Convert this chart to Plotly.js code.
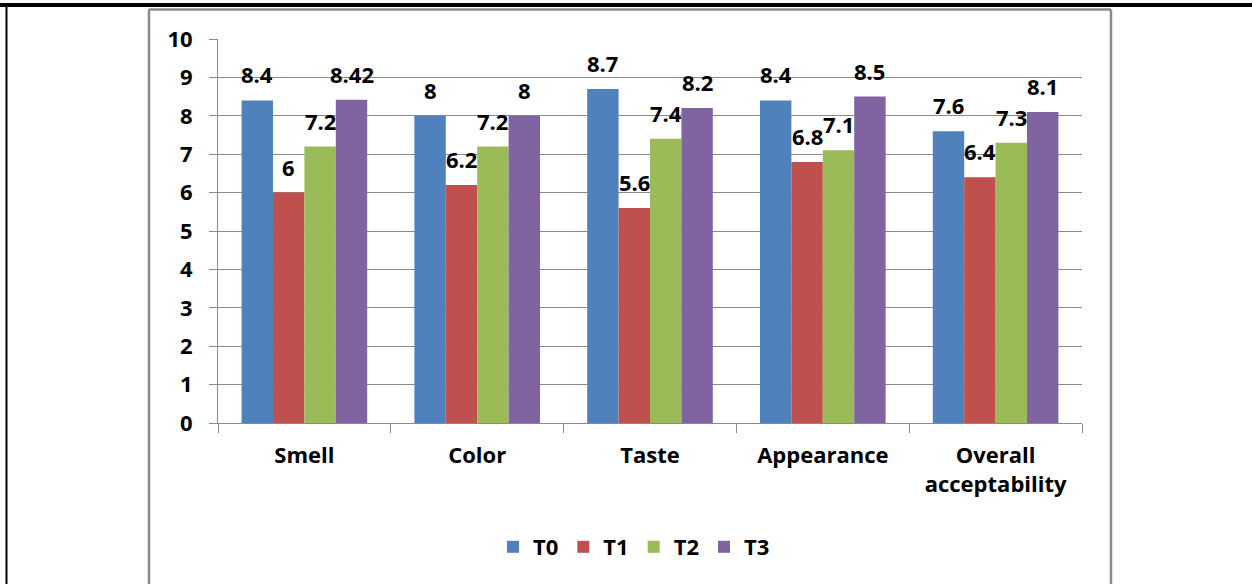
<!DOCTYPE html>
<html>
<head>
<meta charset="utf-8">
<script src="https://cdn.plot.ly/plotly-3.0.1.min.js"></script>
<style>
html,body{margin:0;padding:0;background:#fff;}
#chart{width:1252px;height:584px;}
</style>
</head>
<body>
<div id="chart"></div>
<script>
const categories = ['Smell', 'Color', 'Taste', 'Appearance', 'Overall acceptability'];
const tickLabels = ['Smell', 'Color', 'Taste', 'Appearance', 'Overall<br>acceptability'];
const seriesNames = ['T0', 'T1', 'T2', 'T3'];
const T0 = [8.4, 8, 8.7, 8.4, 7.6];
const T1 = [6, 6.2, 5.6, 6.8, 6.4];
const T2 = [7.2, 7.2, 7.4, 7.1, 7.3];
const T3 = [8.42, 8, 8.2, 8.5, 8.1];
const yTickValues = [0, 1, 2, 3, 4, 5, 6, 7, 8, 9, 10];
const seriesColors = ['#4F81BD', '#C0504D', '#9BBB59', '#8064A2'];

const seriesValues = [T0, T1, T2, T3];
const W = 1252, H = 584;
const margin = {l: 218, r: 170, t: 39, b: 161, pad: 0};
const plotW = W - margin.l - margin.r;
const plotH = H - margin.t - margin.b;
const bargap = 0.273;
const FONT = 'Open Sans, Liberation Sans, Arial, sans-serif';

const traces = seriesValues.map((vals, i) => ({
  type: 'bar',
  name: seriesNames[i],
  x: categories,
  y: vals,
  marker: {color: seriesColors[i], line: {width: 0}},
  hoverinfo: 'skip'
}));

// data labels, placed over each bar of the group
const catW = plotW / categories.length;
const barW = catW * (1 - bargap) / seriesValues.length;
const annotations = [];
seriesValues.forEach((vals, i) => {
  vals.forEach((v, j) => {
    annotations.push({
      x: categories[j], y: v, xref: 'x', yref: 'y',
      text: String(v), showarrow: false,
      xanchor: 'center', yanchor: 'middle',
      xshift: (i - (seriesValues.length - 1) / 2) * barW,
      yshift: 26,
      font: {family: FONT, size: 22, weight: 'bold', color: '#000'}
    });
  });
});

// frame lines (page border and chart box), in paper coordinates
const px = v => (v - margin.l) / plotW;
const py = v => (H - margin.b - v) / plotH;
const shapes = [
  {type: 'line', xref: 'paper', yref: 'paper', x0: px(0), x1: px(W), y0: py(5), y1: py(5), line: {color: '#000', width: 4}},
  {type: 'line', xref: 'paper', yref: 'paper', x0: px(6.5), x1: px(6.5), y0: py(5), y1: py(H + 5), line: {color: '#000', width: 2}},
  {type: 'line', xref: 'paper', yref: 'paper', x0: px(149), x1: px(1111), y0: py(9.5), y1: py(9.5), line: {color: '#8a8a8a', width: 2.5}},
  {type: 'line', xref: 'paper', yref: 'paper', x0: px(149), x1: px(149), y0: py(9.5), y1: py(H + 5), line: {color: '#8a8a8a', width: 2.5}},
  {type: 'line', xref: 'paper', yref: 'paper', x0: px(1111), x1: px(1111), y0: py(9.5), y1: py(H + 5), line: {color: '#8a8a8a', width: 2.5}}
];

const layout = {
  width: W, height: H,
  margin: margin,
  paper_bgcolor: '#fff',
  plot_bgcolor: '#fff',
  barmode: 'group',
  bargap: bargap,
  bargroupgap: 0,
  showlegend: true,
  legend: {
    orientation: 'h',
    x: px(634), xanchor: 'center',
    y: py(547), yanchor: 'middle',
    font: {family: FONT, size: 22, weight: 'bold', color: '#000'},
    itemwidth: 30,
    traceorder: 'normal'
  },
  xaxis: {
    type: 'category',
    tickmode: 'array',
    tickvals: categories,
    ticktext: tickLabels,
    tickson: 'boundaries',
    ticks: 'outside',
    ticklen: 9,
    tickcolor: '#8a8a8a',
    tickwidth: 1,
    showline: true,
    linecolor: '#8a8a8a',
    linewidth: 1,
    showgrid: false,
    zeroline: false,
    ticklabelstandoff: 13,
    tickfont: {family: FONT, size: 22, weight: 'bold', color: '#000'}
  },
  yaxis: {
    range: [0, 10],
    tickmode: 'array',
    tickvals: yTickValues,
    ticktext: yTickValues.map(String),
    ticks: 'outside',
    ticklen: 8,
    tickcolor: '#8a8a8a',
    tickwidth: 1,
    showline: true,
    linecolor: '#8a8a8a',
    linewidth: 1,
    showgrid: true,
    gridcolor: '#8a8a8a',
    gridwidth: 1,
    zeroline: false,
    ticklabelstandoff: 12,
    tickfont: {family: FONT, size: 22, weight: 'bold', color: '#000'}
  },
  annotations: annotations,
  shapes: shapes
};

Plotly.newPlot('chart', traces, layout, {staticPlot: true, displayModeBar: false});
</script>
</body>
</html>
